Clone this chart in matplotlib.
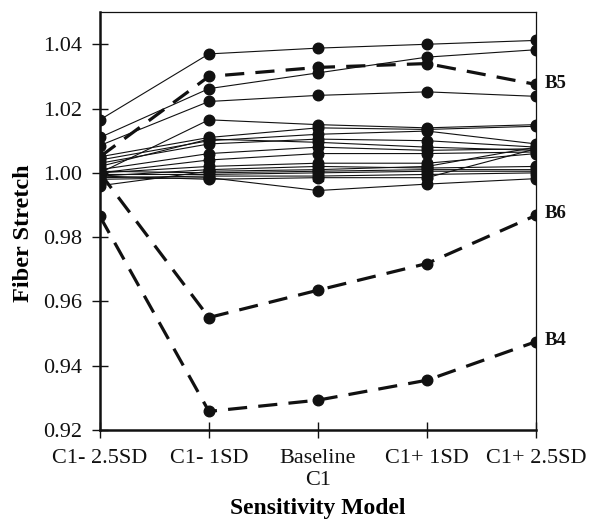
import matplotlib
matplotlib.use("Agg")
import matplotlib.pyplot as plt

categories = ["C1- 2.5SD", "C1- 1SD", "Baseline\nC1", "C1+ 1SD", "C1+ 2.5SD"]

solid_series = [
    [1.0165, 1.0370, 1.0388, 1.0400, 1.0412],
    [1.0110, 1.0262, 1.0311, 1.0360, 1.0383],
    [1.0085, 1.0222, 1.0241, 1.0252, 1.0238],
    [1.0000, 1.0165, 1.0150, 1.0140, 1.0150],
    [1.0050, 1.0110, 1.0140, 1.0135, 1.0145],
    [1.0040, 1.0100, 1.0120, 1.0130, 1.0090],
    [1.0030, 1.0090, 1.0105, 1.0100, 1.0080],
    [1.0020, 1.0105, 1.0095, 1.0080, 1.0070],
    [1.0010, 1.0060, 1.0080, 1.0070, 1.0075],
    [1.0000, 1.0040, 1.0060, 1.0060, 1.0065],
    [1.0000, 1.0020, 1.0030, 1.0030, 1.0060],
    [0.9990, 1.0010, 1.0020, 1.0015, 1.0020],
    [1.0005, 1.0000, 1.0005, 1.0010, 1.0010],
    [0.9995, 0.9995, 1.0000, 1.0005, 1.0005],
    [0.9985, 0.9990, 0.9990, 0.9995, 1.0000],
    [0.9980, 0.9985, 0.9945, 0.9965, 0.9982],
    [0.9990, 0.9980, 0.9985, 0.9985, 1.0075],
    [0.9960, 1.0005, 1.0010, 1.0020, 1.0080],
]
square_idx = [12, 13, 14]

dashed_names = ["B5", "B6", "B4"]
dashed_series = [
    [1.0050, 1.0300, 1.0328, 1.0340, 1.0275],
    [1.0000, 0.9550, 0.9635, 0.9718, 0.9868],
    [0.9865, 0.9258, 0.9293, 0.9355, 0.9475],
]

yticks = [0.92, 0.94, 0.96, 0.98, 1.00, 1.02, 1.04]
ytick_labels = ["0.92", "0.94", "0.96", "0.98", "1.00", "1.02", "1.04"]

plt.rcParams['font.family'] = ['Liberation Serif', 'DejaVu Serif']

fig = plt.figure(figsize=(5.91, 5.27), dpi=100)
ax = fig.add_axes([0.169, 0.184, 0.738, 0.793])

x = list(range(len(categories)))
col = "#111111"
for i, s in enumerate(solid_series):
    mk = "s" if i in square_idx else "o"
    ax.plot(x, s, color=col, lw=0.8, marker=mk, ms=7.6 if mk == "o" else 7.0,
            mfc=col, mec=col, zorder=3)
for s in dashed_series:
    ax.plot(x, s, color=col, lw=2.3, ls=(0, (6, 3.5)), marker="o", ms=7.6,
            mfc=col, mec=col, zorder=4)
for name, s in zip(dashed_names, dashed_series):
    ax.annotate(name, xy=(x[-1], s[-1]), xytext=(6.5, 1), textcoords="offset points",
                ha="left", va="center", fontsize=13.5, fontweight="bold", color=col,
                annotation_clip=False)

ax.set_xlim(0, 4)
ax.set_ylim(0.92, 1.05)
ax.set_yticks(yticks)
ax.set_yticklabels(ytick_labels)
ax.set_xticks(x)
ax.set_xticklabels(categories)
ax.tick_params(axis="both", direction="inout", length=11, width=1.0,
               labelsize=16, colors=col)
ax.tick_params(axis="y", pad=7.5)
ax.tick_params(axis="x", pad=8)
for side in ["left", "bottom"]:
    ax.spines[side].set_linewidth(1.8)
for side in ["top", "right"]:
    ax.spines[side].set_linewidth(0.9)
for sp in ax.spines.values():
    sp.set_color(col)

ax.set_ylabel("Fiber Stretch", fontsize=17.5, fontweight="bold")
ax.yaxis.set_label_coords(-0.15, 0.47)
ax.set_xlabel("Sensitivity Model", fontsize=17, fontweight="bold", labelpad=6)

fig.savefig("out.png", dpi=100)
